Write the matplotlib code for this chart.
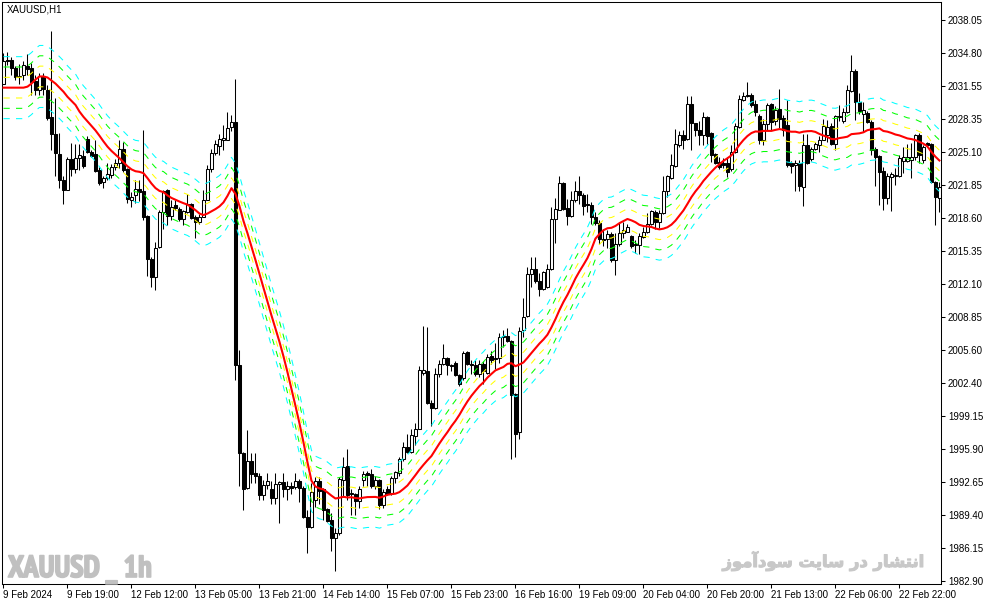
import matplotlib
matplotlib.use('Agg')
import matplotlib.pyplot as plt
import matplotlib.font_manager as fm
import matplotlib.patheffects as pe
import numpy as np
import pandas as pd

# XAUUSD H1 candles (bar 0 = 9 Feb 2024 03:00)
opens = [
    2031.8, 2034.1, 2034.1, 2033.3, 2032.4, 2032.6, 2033.5, 2033.3, 2032.1, 2031.2,
    2032.5, 2031.2, 2028.5, 2026.8, 2024.9, 2022.3, 2021.3, 2024.4, 2023.4, 2024.5,
    2024.7, 2026.4, 2025.1, 2024.9, 2023.3, 2022.1, 2022.5, 2022.8, 2023.6, 2024.0,
    2025.4, 2023.4, 2020.4, 2020.8, 2021.4, 2021.2, 2018.8, 2014.6, 2012.8, 2015.7,
    2019.2, 2021.3, 2018.8, 2019.9, 2019.5, 2018.5, 2019.2, 2020.0, 2018.7, 2018.2,
    2018.7, 2020.4, 2023.4, 2025.0, 2025.7, 2026.3, 2026.3, 2027.5, 2028.0, 2004.1,
    1995.5, 1992.0, 1994.7, 1993.5, 1993.2, 1991.4, 1992.3, 1991.9, 1991.1, 1992.4,
    1992.6, 1991.9, 1992.2, 1992.1, 1992.7, 1992.0, 1989.2, 1988.2, 1990.9, 1992.7,
    1991.9, 1990.0, 1988.9, 1987.1, 1987.6, 1992.8, 1994.2, 1991.5, 1991.5, 1990.8,
    1992.8, 1993.5, 1993.4, 1992.2, 1992.8, 1990.4, 1991.9, 1991.6, 1993.0, 1993.5,
    1994.9, 1996.1, 1995.6, 1997.2, 1997.8, 2003.4, 2003.5, 2000.4, 1999.9, 2003.3,
    2004.2, 2004.8, 2004.1, 2004.3, 2003.2, 2002.9, 2005.4, 2004.2, 2004.1, 2003.3,
    2004.2, 2003.4, 2005.0, 2004.8, 2004.8, 2006.9, 2007.0, 2006.5, 2001.3, 1997.6,
    2007.6, 2009.0, 2013.1, 2013.6, 2012.4, 2011.6, 2011.8, 2013.6, 2018.5, 2019.4,
    2022.0, 2019.6, 2018.8, 2020.4, 2021.2, 2020.8, 2020.0, 2019.9, 2018.7, 2018.1,
    2016.5, 2016.5, 2017.0, 2014.5, 2016.0, 2017.1, 2017.2, 2016.8, 2016.0, 2015.9,
    2016.7, 2017.2, 2018.0, 2019.2, 2018.2, 2019.1, 2021.2, 2022.5, 2023.7, 2025.8,
    2026.7, 2026.4, 2029.8, 2027.9, 2027.2, 2026.7, 2028.5, 2026.9, 2024.9, 2024.1,
    2024.0, 2024.0, 2023.4, 2025.1, 2027.5, 2030.2, 2030.7, 2030.7, 2029.8, 2028.6,
    2026.3, 2027.8, 2029.8, 2028.1, 2029.3, 2028.4, 2027.7, 2024.0, 2023.8, 2024.0,
    2021.6, 2025.8, 2024.4, 2025.4, 2025.8, 2026.3, 2026.7, 2027.6, 2025.9, 2028.6,
    2028.1, 2029.0, 2031.1, 2033.0, 2030.0, 2028.8, 2028.9, 2028.0, 2025.4, 2024.7,
    2023.2, 2020.6, 2022.6, 2022.7, 2022.7, 2024.2, 2024.2, 2024.3, 2024.6, 2026.7,
    2024.3, 2026.0, 2025.9, 2022.1, 2020.6,
]
highs = [
    2034.8, 2034.9, 2034.4, 2033.5, 2033.7, 2034.0, 2034.7, 2033.8, 2032.6, 2032.8,
    2032.8, 2031.7, 2037.0, 2030.4, 2026.9, 2022.7, 2024.6, 2026.0, 2025.9, 2025.9,
    2025.3, 2026.6, 2025.3, 2026.3, 2023.6, 2022.7, 2024.0, 2023.9, 2024.4, 2026.3,
    2026.1, 2023.5, 2021.1, 2022.3, 2022.3, 2027.2, 2018.9, 2014.8, 2016.2, 2019.4,
    2021.3, 2021.4, 2020.4, 2020.4, 2019.7, 2019.4, 2020.9, 2020.1, 2018.9, 2019.0,
    2021.3, 2023.8, 2025.4, 2026.3, 2026.8, 2027.7, 2029.0, 2028.7, 2032.3, 2005.6,
    1995.6, 1997.7, 1995.5, 1995.5, 1993.5, 1992.8, 1993.5, 1992.7, 1993.5, 1992.7,
    1993.5, 1992.7, 1992.6, 1993.5, 1992.9, 1992.2, 1989.9, 1992.5, 1993.1, 1993.1,
    1992.0, 1990.1, 1989.6, 1988.1, 1993.1, 1995.1, 1995.9, 1991.9, 1991.6, 1992.2,
    1993.7, 1993.7, 1993.9, 1993.2, 1992.9, 1991.9, 1992.2, 1993.2, 1993.7, 1995.1,
    1996.6, 1997.4, 1997.8, 1998.4, 2004.0, 2008.0, 2007.9, 2000.7, 2003.8, 2004.6,
    2006.2, 2004.9, 2004.2, 2004.5, 2003.3, 2005.5, 2005.5, 2004.6, 2004.6, 2004.6,
    2004.5, 2005.2, 2005.5, 2006.3, 2007.3, 2007.6, 2007.8, 2006.6, 2001.4, 2007.9,
    2010.7, 2013.8, 2014.8, 2014.8, 2013.2, 2013.4, 2014.1, 2019.7, 2020.6, 2022.7,
    2022.1, 2020.5, 2021.2, 2022.2, 2022.7, 2021.0, 2020.9, 2020.2, 2019.2, 2018.4,
    2017.5, 2017.4, 2017.2, 2017.1, 2018.1, 2018.2, 2018.0, 2016.9, 2016.4, 2017.1,
    2017.7, 2019.1, 2019.4, 2019.4, 2019.4, 2022.7, 2022.8, 2024.9, 2027.3, 2027.1,
    2027.2, 2030.6, 2030.6, 2027.9, 2028.1, 2029.0, 2028.6, 2027.0, 2025.0, 2024.6,
    2024.5, 2024.6, 2025.8, 2027.9, 2030.7, 2031.0, 2032.0, 2030.9, 2030.2, 2028.8,
    2028.3, 2029.9, 2029.9, 2029.6, 2031.3, 2028.7, 2030.2, 2024.2, 2024.3, 2024.3,
    2026.8, 2026.8, 2025.6, 2026.1, 2026.6, 2028.3, 2028.2, 2027.9, 2028.7, 2029.7,
    2029.4, 2031.7, 2034.6, 2033.2, 2030.9, 2030.0, 2029.1, 2028.2, 2025.6, 2024.8,
    2023.6, 2023.0, 2023.1, 2023.5, 2024.8, 2025.6, 2025.9, 2026.0, 2026.8, 2026.9,
    2025.8, 2026.1, 2026.0, 2022.2, 2022.1,
]
lows = [
    2031.8, 2033.6, 2032.6, 2032.2, 2031.8, 2032.2, 2032.6, 2030.7, 2030.7, 2030.7,
    2030.7, 2028.2, 2025.3, 2022.7, 2021.5, 2020.0, 2021.3, 2022.7, 2023.0, 2023.3,
    2023.5, 2025.0, 2024.6, 2023.1, 2021.8, 2021.5, 2022.3, 2022.5, 2023.3, 2023.5,
    2023.1, 2020.1, 2019.7, 2020.1, 2020.3, 2018.4, 2012.9, 2011.8, 2011.5, 2015.6,
    2017.5, 2017.9, 2018.4, 2019.4, 2018.3, 2017.9, 2019.1, 2018.5, 2016.6, 2018.0,
    2018.7, 2020.4, 2023.1, 2024.8, 2024.8, 2025.3, 2026.3, 2027.1, 2002.7, 1992.2,
    1989.9, 1991.9, 1992.5, 1992.5, 1990.9, 1990.9, 1991.9, 1990.5, 1990.5, 1988.6,
    1991.2, 1990.9, 1991.5, 1991.9, 1990.7, 1989.1, 1985.7, 1988.1, 1990.2, 1990.5,
    1988.9, 1988.7, 1985.9, 1983.9, 1987.4, 1991.2, 1990.9, 1989.4, 1989.4, 1990.1,
    1992.2, 1992.2, 1992.0, 1991.9, 1990.0, 1990.1, 1991.4, 1991.4, 1992.5, 1993.2,
    1994.7, 1995.5, 1995.5, 1996.3, 1997.8, 2003.2, 2000.3, 1998.1, 1999.8, 2003.0,
    2004.1, 2003.2, 2003.5, 2003.1, 2002.1, 2002.7, 2004.1, 2003.3, 2003.1, 2003.0,
    2002.3, 2003.3, 2004.2, 2003.7, 2004.3, 2005.9, 2006.4, 1994.9, 1995.1, 1996.9,
    2006.9, 2008.9, 2011.8, 2012.2, 2010.9, 2011.5, 2011.7, 2013.5, 2016.1, 2019.4,
    2019.4, 2017.9, 2018.7, 2020.2, 2020.0, 2018.9, 2019.2, 2018.0, 2017.9, 2016.0,
    2015.8, 2015.6, 2014.3, 2013.0, 2015.8, 2016.6, 2017.2, 2015.6, 2015.1, 2015.0,
    2016.6, 2017.1, 2017.9, 2017.5, 2017.6, 2019.0, 2020.7, 2022.4, 2023.6, 2025.6,
    2025.4, 2026.3, 2025.3, 2026.6, 2025.8, 2025.8, 2025.9, 2024.1, 2023.9, 2023.4,
    2023.5, 2022.6, 2023.2, 2025.0, 2027.4, 2030.1, 2030.5, 2029.5, 2028.6, 2025.9,
    2025.8, 2027.2, 2027.2, 2027.7, 2027.4, 2026.6, 2023.6, 2023.0, 2021.2, 2021.2,
    2019.8, 2023.9, 2024.2, 2025.3, 2025.1, 2026.3, 2026.1, 2025.8, 2025.3, 2028.1,
    2027.9, 2028.9, 2031.0, 2028.2, 2028.8, 2027.0, 2027.9, 2024.8, 2021.7, 2019.9,
    2019.4, 2020.0, 2019.3, 2021.8, 2022.6, 2023.0, 2024.1, 2022.5, 2024.3, 2024.0,
    2024.0, 2025.6, 2022.0, 2017.9, 2019.2,
]
closes = [
    2034.0, 2034.0, 2033.3, 2032.4, 2032.5, 2033.6, 2033.2, 2032.0, 2031.2, 2032.5,
    2031.3, 2028.4, 2026.8, 2025.0, 2022.3, 2021.3, 2024.4, 2023.4, 2024.5, 2024.8,
    2023.7, 2025.1, 2024.7, 2023.2, 2022.0, 2022.5, 2022.9, 2023.6, 2024.0, 2025.4,
    2023.3, 2020.5, 2020.7, 2021.4, 2021.1, 2018.7, 2014.6, 2012.8, 2015.6, 2019.2,
    2021.2, 2018.8, 2019.7, 2019.6, 2018.5, 2019.3, 2020.0, 2018.6, 2018.2, 2018.7,
    2020.4, 2023.4, 2025.0, 2025.9, 2026.4, 2026.5, 2027.4, 2028.0, 2004.1, 1995.5,
    1991.9, 1994.7, 1993.4, 1993.2, 1991.4, 1992.3, 1992.7, 1991.1, 1992.4, 1992.6,
    1991.9, 1992.2, 1992.0, 1992.7, 1992.0, 1989.2, 1988.2, 1991.7, 1992.7, 1991.8,
    1989.9, 1988.8, 1987.1, 1987.6, 1992.9, 1994.1, 1991.4, 1991.6, 1990.8, 1991.9,
    1993.4, 1993.3, 1992.2, 1992.8, 1990.4, 1991.7, 1991.5, 1993.0, 1993.6, 1994.9,
    1996.1, 1995.6, 1997.3, 1997.8, 2003.6, 2003.6, 2000.4, 1999.9, 2003.3, 2004.2,
    2004.8, 2004.1, 2004.0, 2003.2, 2002.3, 2005.3, 2004.2, 2004.1, 2003.3, 2004.2,
    2003.5, 2004.9, 2004.6, 2004.7, 2006.9, 2007.0, 2006.5, 2001.2, 1997.4, 2007.5,
    2008.9, 2013.1, 2013.6, 2012.4, 2011.6, 2013.3, 2013.6, 2018.5, 2019.5, 2022.0,
    2019.5, 2018.8, 2020.4, 2021.2, 2020.8, 2019.8, 2019.9, 2018.7, 2018.1, 2016.5,
    2016.4, 2017.0, 2014.5, 2016.0, 2017.1, 2017.4, 2017.7, 2015.8, 2015.9, 2016.8,
    2017.2, 2018.0, 2019.3, 2018.2, 2019.1, 2021.2, 2022.7, 2023.8, 2025.9, 2026.7,
    2026.3, 2029.8, 2027.9, 2027.2, 2026.7, 2028.5, 2026.6, 2024.8, 2024.0, 2023.6,
    2023.8, 2023.1, 2025.1, 2027.6, 2030.3, 2030.6, 2030.6, 2029.7, 2029.0, 2026.3,
    2027.8, 2029.7, 2028.0, 2029.2, 2028.3, 2027.2, 2023.8, 2023.7, 2024.0, 2021.7,
    2025.8, 2024.0, 2025.4, 2025.9, 2026.3, 2027.6, 2027.5, 2025.9, 2028.6, 2028.5,
    2029.0, 2031.2, 2033.0, 2030.0, 2029.1, 2029.2, 2028.0, 2025.3, 2024.6, 2023.1,
    2020.6, 2022.7, 2022.9, 2022.8, 2024.5, 2024.6, 2024.6, 2024.6, 2026.7, 2024.8,
    2025.6, 2025.8, 2022.1, 2020.7, 2021.6,
]

# red average for the first bars, before its 20-bar window is full
ma_head = [2031.4, 2031.4, 2031.4, 2031.4, 2031.4, 2031.4, 2031.5, 2031.8, 2032.2, 2032.5,
           2032.5, 2032.4, 2032.1, 2031.8, 2031.4, 2031.0, 2030.5, 2030.1, 2029.7]
ma_period = 20

env_pcts = [0.05, 0.10, 0.15]
env_colors = ['#ffff00', '#00ff00', '#00ffff']

xtick_labels = ['9 Feb 2024', '9 Feb 19:00', '12 Feb 12:00', '13 Feb 05:00', '13 Feb 21:00',
                '14 Feb 14:00', '15 Feb 07:00', '15 Feb 23:00', '16 Feb 16:00', '19 Feb 09:00',
                '20 Feb 04:00', '20 Feb 20:00', '21 Feb 13:00', '22 Feb 06:00', '22 Feb 22:00']
ytick_values = [2038.05, 2034.80, 2031.55, 2028.35, 2025.10, 2021.85, 2018.60, 2015.35, 2012.10,
                2008.85, 2005.60, 2002.40, 1999.15, 1995.90, 1992.65, 1989.40, 1986.15, 1982.90]

plt.rcParams['font.family'] = ['Liberation Sans', 'DejaVu Sans']

W, H = 987, 605
fig = plt.figure(figsize=(W / 100, H / 100), dpi=100)
ax = fig.add_axes([2 / W, 1 - 583.5 / H, 939 / W, 581.5 / H])

n = len(closes)
x = np.arange(n)
o = np.array(opens)
c = np.array(closes)
up = c >= o

# candles
ax.vlines(x, lows, highs, color='black', lw=0.75, zorder=2)
body_lo = np.minimum(o, c)
body_h = np.maximum(np.abs(c - o), 0.04)
ax.bar(x, body_h, width=0.55, bottom=body_lo, color=np.where(up, 'white', 'black'),
       edgecolor='black', linewidth=0.75, zorder=3)

# moving average + envelopes
ma = pd.Series(closes).rolling(ma_period).mean().to_numpy()
ma[:ma_period - 1] = ma_head
for pct, col in zip(env_pcts, env_colors):
    ax.plot(x, ma * (1 + pct / 100), color=col, lw=0.75, ls=(0, (6, 6)), zorder=4)
    ax.plot(x, ma * (1 - pct / 100), color=col, lw=0.75, ls=(0, (6, 6)), zorder=4)
ax.plot(x, ma, color='red', lw=1.5, zorder=5)

ax.set_xlim(-0.375, 234.4)
ax.set_ylim(1982.66, 2039.82)

ax.yaxis.tick_right()
ax.set_yticks(ytick_values)
ax.set_yticklabels([f'{v:.2f}' for v in ytick_values])
ax.tick_params(axis='y', direction='out', length=3, width=0.75, pad=2, labelsize=7)
ax.set_xticks(np.arange(0, n, 16))
ax.set_xticklabels(xtick_labels, ha='left')
ax.tick_params(axis='x', direction='out', length=3, width=0.75, pad=1.5, labelsize=7)
for s in ax.spines.values():
    s.set_linewidth(0.75)

fig.text(7 / W, 1 - 10 / H, 'XAUUSD,H1', fontsize=7, va='center')

# watermarks -- a narrow bold face if there is one, else plain bold a bit smaller
narrow = [f for f in fm.fontManager.ttflist
          if 'Narrow' in f.name and str(f.weight) in ('bold', '700')]
if narrow:
    wm_font = fm.FontProperties(fname=narrow[0].fname, size=22)
else:
    wm_font = fm.FontProperties(family='Liberation Sans', weight='bold', size=16.5)
fig.text(8 / W, 1 - 577 / H, 'XAUUSD _ 1h', fontproperties=wm_font, color='#c0c0c0',
         va='baseline', path_effects=[pe.withStroke(linewidth=1.2, foreground='#c0c0c0')])
fa = '\uFEAF\uFEEE\uFEE3\uFE81\uFEA9\uFEEE\uFEB3 \uFE96\uFBFE\uFE8E\uFEB3 \uFEAD\uFEA9 \uFEAD\uFE8E\uFEB8\uFE98\uFEE7\uFE8D'
fig.text(925 / W, 1 - 567 / H, fa, fontsize=11.8, fontweight='bold', color='#c8c8c8',
         family=['DejaVu Sans'], ha='right', va='baseline',
         path_effects=[pe.withStroke(linewidth=0.8, foreground='#c8c8c8')])

fig.savefig('out.png', dpi=100)
